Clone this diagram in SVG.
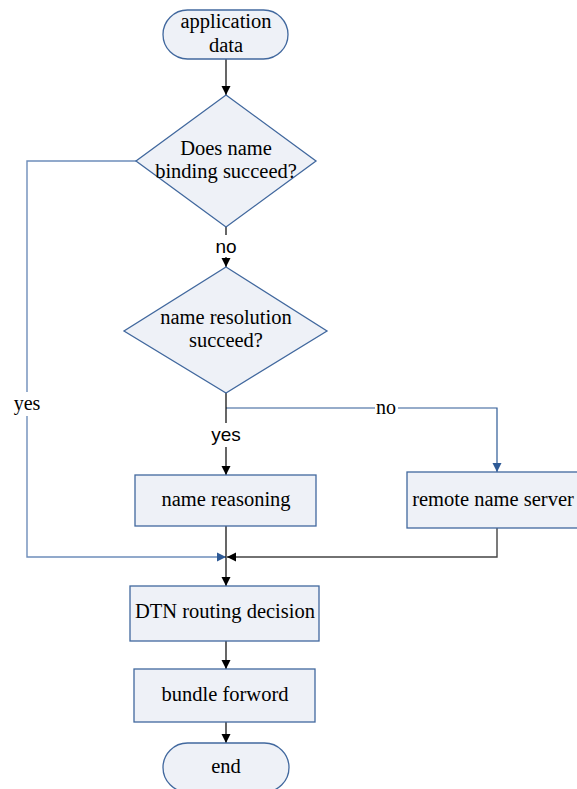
<svg xmlns="http://www.w3.org/2000/svg" width="577" height="789" viewBox="0 0 577 789">
<style>
.n{fill:#EEF1F7;stroke:#41689E;stroke-width:1.3}
.t{font-family:"Liberation Serif",serif;font-size:20.5px;fill:#000;text-anchor:middle}
.s{font-family:"Liberation Sans",sans-serif;font-size:19px;fill:#000;text-anchor:middle}
.ls{font-family:"Liberation Serif",serif;font-size:20px;fill:#000;text-anchor:middle}
.k{fill:none;stroke:#000;stroke-width:1.2}
.b{fill:none;stroke:#2E5A96;stroke-width:1.2}
.bl{fill:none;stroke:#6E8DBA;stroke-width:1.4}
.g{fill:none;stroke:#444;stroke-width:1.4}
</style>
<defs>
<marker id="ak" markerUnits="userSpaceOnUse" markerWidth="10" markerHeight="10" refX="9" refY="5" orient="auto"><path d="M0,0.5 L9,5 L0,9.5 z" fill="#000"/></marker>
<marker id="ab" markerUnits="userSpaceOnUse" markerWidth="10" markerHeight="10" refX="9" refY="5" orient="auto"><path d="M0,0.5 L9,5 L0,9.5 z" fill="#2E5A96"/></marker>
</defs>
<rect width="577" height="789" fill="#fff"/>
<g id="connectors">
<path class="k" d="M226,59 V95" marker-end="url(#ak)"/>
<path class="k" d="M226,227 V267" marker-end="url(#ak)"/>
<rect x="212" y="235" width="28" height="22" fill="#fff"/>
<path class="b" d="M226,408 H497 V472" marker-end="url(#ab)"/>
<path class="k" d="M226,393 V475" marker-end="url(#ak)"/>
<rect x="208" y="423" width="36" height="24" fill="#fff"/>
<rect x="375" y="398" width="23" height="18" fill="#fff"/>
<path class="bl" d="M136,161 H27 V557 H226" marker-end="url(#ab)"/>
<rect x="10" y="392" width="34" height="24" fill="#fff"/>
<path class="g" d="M497,528 V557 H227" marker-end="url(#ak)"/>
<path class="k" d="M226,526 V586" marker-end="url(#ak)"/>
<path class="k" d="M226,641 V669" marker-end="url(#ak)"/>
<path class="k" d="M226,722 V743" marker-end="url(#ak)"/>
<text class="s" x="226" y="253">no</text>
<text class="s" x="226" y="441">yes</text>
<text class="ls" x="386" y="414">no</text>
<text class="ls" x="27" y="410">yes</text>
</g>
<g id="start">
<rect class="n" x="163" y="10" width="125" height="49" rx="24.5"/>
<text class="t" x="226" y="28">application</text>
<text class="t" x="226" y="52">data</text>
</g>
<g id="binding">
<polygon class="n" points="226,95 316,161 226,227 136,161"/>
<text class="t" x="226" y="155">Does name</text>
<text class="t" x="226" y="178">binding succeed?</text>
</g>
<g id="resolution">
<polygon class="n" points="226,267 327,331 226,393 124,331"/>
<text class="t" x="226" y="324">name resolution</text>
<text class="t" x="226" y="347">succeed?</text>
</g>
<g id="reasoning">
<rect class="n" x="135" y="475" width="181" height="51"/>
<text class="t" x="226" y="506">name reasoning</text>
</g>
<g id="remote">
<rect class="n" x="407" y="472" width="182" height="56"/>
<text class="t" x="493" y="506">remote name server</text>
</g>
<g id="routing">
<rect class="n" x="130" y="586" width="189" height="55"/>
<text class="t" x="225" y="618">DTN routing decision</text>
</g>
<g id="forward">
<rect class="n" x="134" y="669" width="181" height="53"/>
<text class="t" x="225" y="701">bundle forword</text>
</g>
<g id="end">
<rect class="n" x="163" y="743" width="126" height="49" rx="24.5"/>
<text class="t" x="226" y="773">end</text>
</g>
</svg>
